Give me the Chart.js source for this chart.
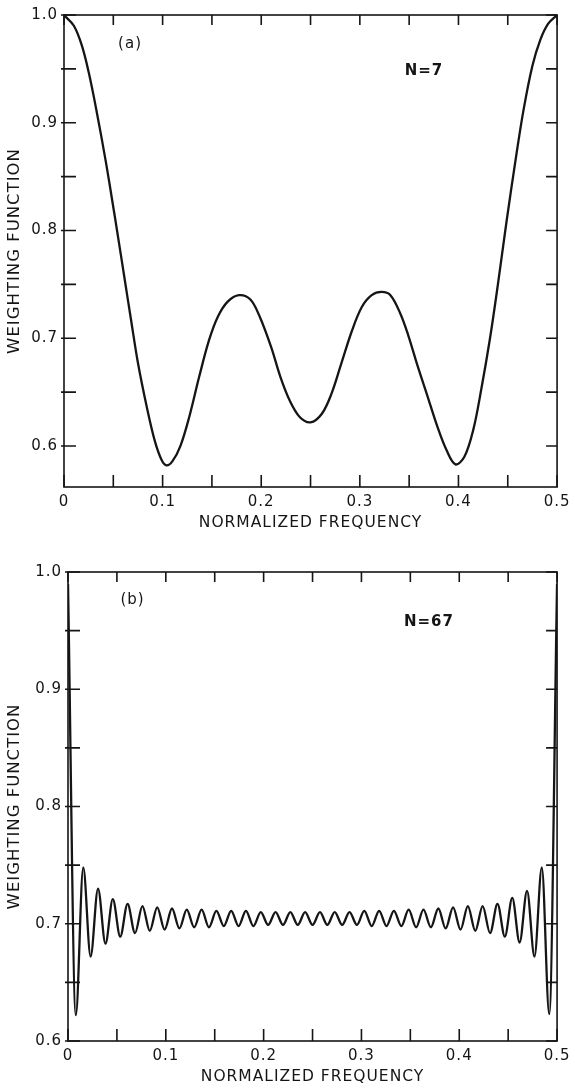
<!DOCTYPE html>
<html>
<head>
<meta charset="utf-8">
<script src="https://cdn.jsdelivr.net/npm/chart.js@4/dist/chart.umd.min.js"></script>
<style>
  body { margin: 0; background: #fff; }
  #wrapA { position: absolute; left: 0; top: 0; }
  #wrapB { position: absolute; left: 0; top: 545px; }
</style>
</head>
<body>
<div id="wrapA"><canvas id="chartA" width="575" height="540"></canvas></div>
<div id="wrapB"><canvas id="chartB" width="575" height="543"></canvas></div>
<script>
// tick positions (labels shown only on the 0.1 steps)
const freqTicks = [0, 0.05, 0.1, 0.15, 0.2, 0.25, 0.3, 0.35, 0.4, 0.45, 0.5];
const weightTicks = [0.6, 0.65, 0.7, 0.75, 0.8, 0.85, 0.9, 0.95, 1.0];

// (a) N=7
const freqA = [0, 0.01, 0.018, 0.025, 0.033, 0.042, 0.048, 0.055, 0.062, 0.068,
  0.075, 0.084, 0.092, 0.099, 0.104, 0.11, 0.118, 0.127, 0.137, 0.147,
  0.156, 0.166, 0.1775, 0.189, 0.1985, 0.21, 0.2195, 0.229, 0.239, 0.25,
  0.2615, 0.271, 0.281, 0.292, 0.302, 0.312, 0.322, 0.331, 0.341, 0.349,
  0.358, 0.368, 0.379, 0.388, 0.397, 0.406, 0.415, 0.423, 0.432, 0.44,
  0.449, 0.458, 0.466, 0.475, 0.483, 0.491, 0.5];
const weightA = [1.0, 0.990, 0.972, 0.947, 0.911, 0.866, 0.833, 0.793, 0.752, 0.717,
  0.677, 0.636, 0.605, 0.587, 0.582, 0.586, 0.600, 0.627, 0.664, 0.698,
  0.720, 0.734, 0.740, 0.736, 0.720, 0.692, 0.664, 0.642, 0.627, 0.622,
  0.630, 0.648, 0.676, 0.707, 0.729, 0.740, 0.743, 0.740, 0.723, 0.703,
  0.676, 0.648, 0.617, 0.596, 0.583, 0.590, 0.615, 0.652, 0.700, 0.750,
  0.810, 0.866, 0.912, 0.953, 0.977, 0.992, 1.0];

// (b) N=67, ripple peaks and troughs
const freqB = [0, 0.0080, 0.0156, 0.0231, 0.0307, 0.0383, 0.0458, 0.0534, 0.0609, 0.0685,
  0.0761, 0.0836, 0.0912, 0.0988, 0.1063, 0.1139, 0.1214, 0.1290, 0.1366, 0.1441,
  0.1517, 0.1593, 0.1668, 0.1744, 0.1819, 0.1895, 0.1971, 0.2046, 0.2122, 0.2198,
  0.2273, 0.2349, 0.2424, 0.2500, 0.2576, 0.2651, 0.2727, 0.2803, 0.2878, 0.2954,
  0.3029, 0.3105, 0.3181, 0.3256, 0.3332, 0.3408, 0.3483, 0.3559, 0.3634, 0.3710,
  0.3786, 0.3861, 0.3937, 0.4013, 0.4088, 0.4164, 0.4239, 0.4315, 0.4391, 0.4466,
  0.4542, 0.4617, 0.4693, 0.4769, 0.4844, 0.4920, 0.5];
const weightB = [0.99, 0.622, 0.748, 0.672, 0.730, 0.683, 0.721, 0.689, 0.717, 0.692,
  0.715, 0.694, 0.714, 0.695, 0.713, 0.696, 0.712, 0.697, 0.712, 0.697,
  0.711, 0.698, 0.711, 0.698, 0.711, 0.698, 0.710, 0.699, 0.710, 0.699,
  0.710, 0.699, 0.710, 0.699, 0.710, 0.699, 0.710, 0.699, 0.710, 0.699,
  0.711, 0.698, 0.711, 0.698, 0.711, 0.698, 0.712, 0.697, 0.712, 0.697,
  0.713, 0.696, 0.714, 0.695, 0.715, 0.694, 0.715, 0.692, 0.717, 0.689,
  0.722, 0.684, 0.728, 0.672, 0.748, 0.623, 0.99];

const ink = '#151515';
const fontFam = '"DejaVu Sans", sans-serif';

// frame, inward tick marks on all four sides, and the panel notes
const frameTicks = {
  id: 'frameTicks',
  beforeDraw(chart) {
    chart.ctx.letterSpacing = '1px';
  },
  afterDatasetsDraw(chart, args, opts) {
    const ctx = chart.ctx;
    const a = chart.chartArea;
    const x = chart.scales.x, y = chart.scales.y;
    const len = 12;
    ctx.save();
    ctx.strokeStyle = ink;
    ctx.lineWidth = 1.6;
    ctx.strokeRect(a.left, a.top, a.right - a.left, a.bottom - a.top);
    ctx.beginPath();
    freqTicks.forEach(v => {
      const px = x.getPixelForValue(v);
      ctx.moveTo(px, a.bottom); ctx.lineTo(px, a.bottom - len);
      ctx.moveTo(px, a.top); ctx.lineTo(px, a.top + len - 2);
    });
    weightTicks.forEach(v => {
      const py = y.getPixelForValue(v);
      ctx.moveTo(a.left - 3, py); ctx.lineTo(a.left + len, py);
      ctx.moveTo(a.right, py); ctx.lineTo(a.right - len + 1, py);
    });
    ctx.stroke();
    ctx.fillStyle = ink;
    ctx.textAlign = 'center';
    ctx.textBaseline = 'middle';
    opts.notes.forEach(n => {
      ctx.font = n.bold ? 'bold 15px ' + fontFam : '15px ' + fontFam;
      ctx.fillText(n.text, x.getPixelForValue(n.x), y.getPixelForValue(n.y));
    });
    ctx.restore();
  }
};

function tickLabel(v) {
  if (Math.abs(v * 10 - Math.round(v * 10)) > 1e-6) return '';
  return v === 0 ? '0' : v.toFixed(1);
}

function makeChart(id, freq, weight, cfg) {
  const ctx = document.getElementById(id).getContext('2d');
  return new Chart(ctx, {
    type: 'line',
    data: {
      datasets: [{
        data: freq.map((f, i) => ({x: f, y: weight[i]})),
        borderColor: ink,
        borderWidth: 2.3,
        pointRadius: 0,
        fill: false,
        tension: cfg.tension,
        cubicInterpolationMode: cfg.mode
      }]
    },
    options: {
      responsive: false,
      animation: false,
      layout: {padding: {top: cfg.top, right: cfg.right, left: 0, bottom: 0}},
      plugins: {
        legend: {display: false},
        tooltip: {enabled: false},
        frameTicks: {notes: cfg.notes}
      },
      scales: {
        x: {
          type: 'linear', min: 0, max: 0.5,
          afterBuildTicks: s => { s.ticks = freqTicks.map(v => ({value: v})); },
          afterFit: s => { s.height = cfg.xHeight; },
          grid: {display: false, drawTicks: false},
          border: {display: false},
          ticks: {callback: tickLabel, autoSkip: false, maxRotation: 0, padding: 6,
                  color: ink, font: {family: fontFam, size: 15}},
          title: {display: true, text: 'NORMALIZED FREQUENCY', color: ink,
                  font: {family: fontFam, size: 15.5}, padding: {top: 0, bottom: cfg.xTitlePad}}
        },
        y: {
          type: 'linear', min: cfg.yMin, max: 1.0,
          afterBuildTicks: s => { s.ticks = weightTicks.map(v => ({value: v})); },
          afterFit: s => { s.width = cfg.yWidth; },
          grid: {display: false, drawTicks: false},
          border: {display: false},
          ticks: {callback: tickLabel, autoSkip: false, padding: 6,
                  color: ink, font: {family: fontFam, size: 15}},
          title: {display: true, text: 'WEIGHTING FUNCTION', color: ink,
                  font: {family: fontFam, size: 16.5}, padding: {top: 5, bottom: 0}}
        }
      }
    },
    plugins: [frameTicks]
  });
}

makeChart('chartA', freqA, weightA, {
  top: 14, right: 17, xHeight: 53, yWidth: 64, yMin: 0.562, xTitlePad: 8,
  tension: 0.35, mode: 'default',
  notes: [{text: '(a)', x: 0.067, y: 0.973}, {text: 'N=7', x: 0.365, y: 0.948, bold: true}]
});
makeChart('chartB', freqB, weightB, {
  top: 27, right: 12, xHeight: 47, yWidth: 68, yMin: 0.6, xTitlePad: 2,
  tension: 0, mode: 'monotone',
  notes: [{text: '(b)', x: 0.066, y: 0.976}, {text: 'N=67', x: 0.369, y: 0.957, bold: true}]
});
</script>
</body>
</html>
